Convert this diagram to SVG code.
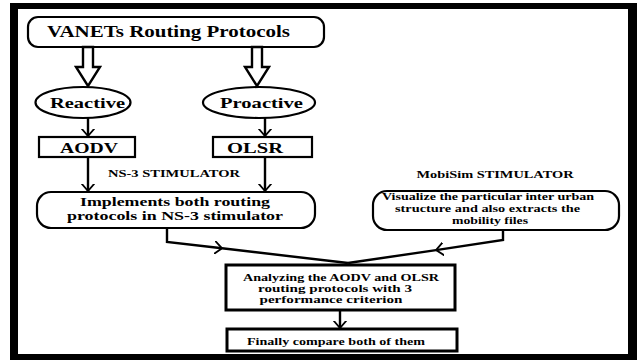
<svg xmlns="http://www.w3.org/2000/svg" width="637" height="360" viewBox="0 0 637 360">
<style>
.box{fill:#fff;stroke:#000;stroke-width:2.2}
.thick{fill:#fff;stroke:#000;stroke-width:3}
.ln{fill:none;stroke:#000;stroke-width:2.4}
.hollow{fill:#fff;stroke:#000;stroke-width:2.4;stroke-linejoin:miter}
</style>
<defs>
<marker id="chev" viewBox="0 0 8 14" refX="7.5" refY="7" markerWidth="8" markerHeight="14" markerUnits="userSpaceOnUse" orient="auto">
<path d="M0,0.5 L7.5,7 L0,13.5" fill="none" stroke="#000" stroke-width="1.8"/>
</marker>
</defs>
<rect x="0" y="0" width="637" height="360" fill="#fff"/>
<rect x="10" y="3" width="627" height="357" fill="#000"/>
<rect x="18" y="9" width="610" height="345" fill="#fff"/>

<g font-family="Liberation Serif, DejaVu Serif, serif" font-weight="bold" text-anchor="middle" fill="#000">
<g id="vanets">
<rect class="box" x="28" y="17" width="296" height="30" rx="10" ry="10"/>
<text x="168.5" y="37" font-size="17" textLength="243" lengthAdjust="spacingAndGlyphs">VANETs Routing Protocols</text>
</g>
<g id="reactive">
<ellipse class="box" cx="83" cy="102.5" rx="47.5" ry="15.5"/>
<text x="87.5" y="108" font-size="15" textLength="75" lengthAdjust="spacingAndGlyphs">Reactive</text>
</g>
<g id="proactive">
<ellipse class="box" cx="259" cy="102.5" rx="56" ry="15.5"/>
<text x="261.5" y="108" font-size="15" textLength="83" lengthAdjust="spacingAndGlyphs">Proactive</text>
</g>
<g id="aodv">
<rect class="box" x="39" y="137" width="96" height="20"/>
<text x="89" y="153" font-size="15" textLength="58" lengthAdjust="spacingAndGlyphs">AODV</text>
</g>
<g id="olsr">
<rect class="box" x="213" y="137" width="99" height="20"/>
<text x="255" y="153" font-size="15" textLength="56" lengthAdjust="spacingAndGlyphs">OLSR</text>
</g>
<g id="ns3label">
<text x="174" y="177" font-size="9.5" textLength="132" lengthAdjust="spacingAndGlyphs">NS-3 STIMULATOR</text>
</g>
<g id="implements">
<rect class="box" x="37" y="192" width="278" height="36" rx="14" ry="14"/>
<text x="175" y="206" font-size="12.5" textLength="190" lengthAdjust="spacingAndGlyphs">Implements both routing</text>
<text x="175" y="219.5" font-size="12.5" textLength="216" lengthAdjust="spacingAndGlyphs">protocols in NS-3 stimulator</text>
</g>
<g id="mobisimlabel">
<text x="495" y="178" font-size="10" textLength="157" lengthAdjust="spacingAndGlyphs">MobiSim STIMULATOR</text>
</g>
<g id="mobisim">
<rect class="box" x="373" y="191" width="246" height="39" rx="14" ry="14"/>
<text x="488" y="200" font-size="10.5" textLength="212" lengthAdjust="spacingAndGlyphs">Visualize the particular inter urban</text>
<text x="487.5" y="212" font-size="10.5" textLength="185" lengthAdjust="spacingAndGlyphs">structure and also extracts the</text>
<text x="490" y="223.5" font-size="10.5" textLength="76" lengthAdjust="spacingAndGlyphs">mobility files</text>
</g>
<g id="analyzing">
<rect class="thick" x="226" y="265" width="229" height="45"/>
<text x="341" y="281" font-size="10.5" textLength="196" lengthAdjust="spacingAndGlyphs">Analyzing the AODV and OLSR</text>
<text x="335" y="292" font-size="10.5" textLength="154" lengthAdjust="spacingAndGlyphs">routing protocols with 3</text>
<text x="331" y="303" font-size="10.5" textLength="143" lengthAdjust="spacingAndGlyphs">performance criterion</text>
</g>
<g id="finally">
<rect class="thick" x="227" y="329" width="230" height="22"/>
<text x="336" y="345" font-size="11" textLength="178" lengthAdjust="spacingAndGlyphs">Finally compare both of them</text>
</g>
</g>

<g id="connectors">
<polygon class="hollow" points="83,47 93,47 93,67 100,67 88,86 76,67 83,67"/>
<polygon class="hollow" points="252,47 262,47 262,67 269,67 257,86 245,67 252,67"/>
<path class="ln" d="M88,118 V136" marker-end="url(#chev)"/>
<path class="ln" d="M265,118 V136" marker-end="url(#chev)"/>
<path class="ln" d="M88,157 V191" marker-end="url(#chev)"/>
<path class="ln" d="M265,157 V191" marker-end="url(#chev)"/>
<path class="ln" d="M167,228 V242 L222,248.3" marker-end="url(#chev)"/>
<path class="ln" d="M222,248.3 L348,263"/>
<path class="ln" d="M503,230 V240 L436,250.1" marker-end="url(#chev)"/>
<path class="ln" d="M436,250.1 L348,263"/>
<path class="ln" d="M340,311 V328" marker-end="url(#chev)"/>
</g>
</svg>
